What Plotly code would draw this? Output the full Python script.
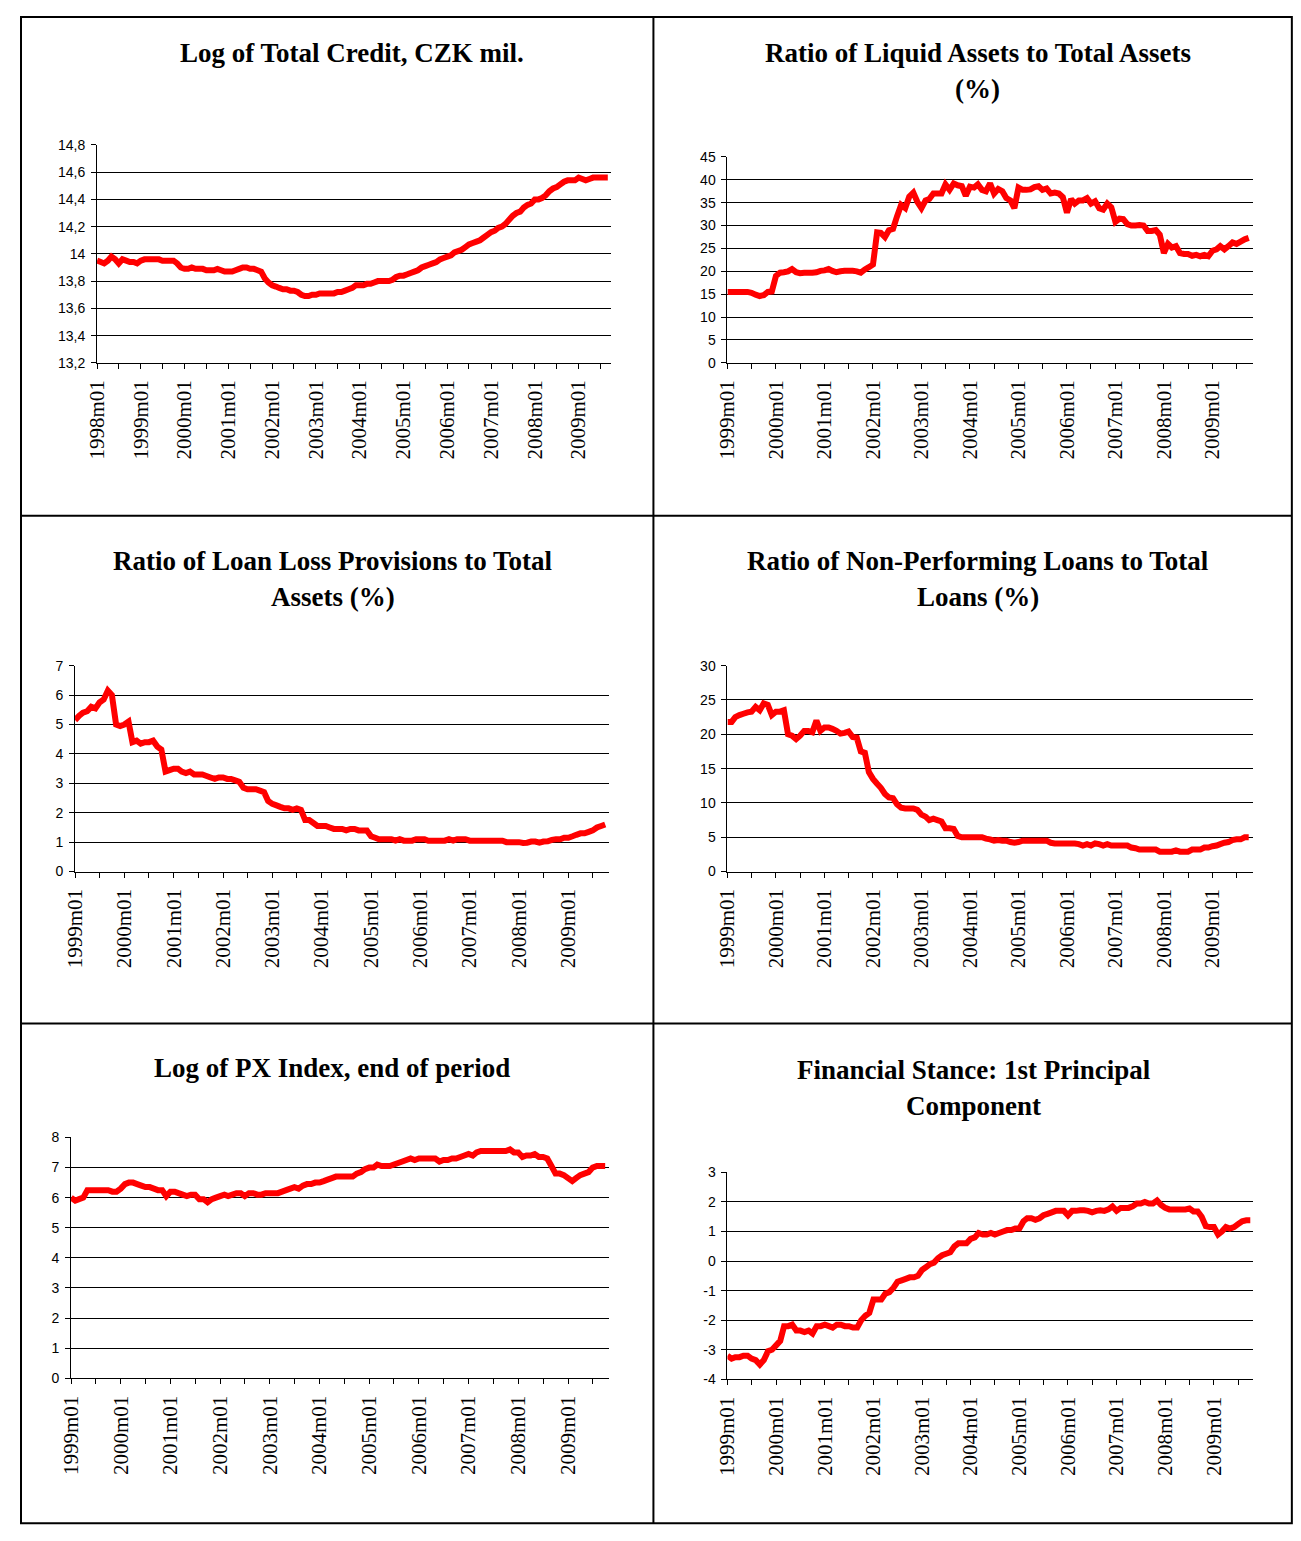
import pandas as pd
import plotly.graph_objects as go

# monthly values

credit_start = "1998-01-01"
credit = [
    13.95, 13.94, 13.93, 13.95, 13.98, 13.96, 13.93, 13.96, 13.95, 13.94, 13.94, 13.93,
    13.95, 13.96, 13.96, 13.96, 13.96, 13.96, 13.95, 13.95, 13.95, 13.95, 13.93, 13.90,
    13.89, 13.89, 13.90, 13.89, 13.89, 13.89, 13.88, 13.88, 13.88, 13.89, 13.88, 13.87,
    13.87, 13.87, 13.88, 13.89, 13.90, 13.90, 13.89, 13.89, 13.88, 13.87, 13.82, 13.79,
    13.77, 13.76, 13.75, 13.74, 13.74, 13.73, 13.73, 13.72, 13.70, 13.69, 13.69, 13.70,
    13.70, 13.71, 13.71, 13.71, 13.71, 13.71, 13.72, 13.72, 13.73, 13.74, 13.75, 13.77,
    13.77, 13.77, 13.78, 13.78, 13.79, 13.80, 13.80, 13.80, 13.80, 13.81, 13.83, 13.84,
    13.84, 13.85, 13.86, 13.87, 13.88, 13.90, 13.91, 13.92, 13.93, 13.94, 13.96, 13.97,
    13.98, 13.99, 14.01, 14.02, 14.03, 14.05, 14.07, 14.08, 14.09, 14.10, 14.12, 14.14,
    14.16, 14.17, 14.19, 14.20, 14.22, 14.25, 14.28, 14.30, 14.31, 14.34, 14.36, 14.37,
    14.40, 14.40, 14.41, 14.43, 14.46, 14.48, 14.49, 14.51, 14.53, 14.54, 14.54, 14.54,
    14.56, 14.55, 14.54, 14.55, 14.56, 14.56, 14.56, 14.56, 14.56,
]

liquid_start = "1999-01-01"
liquid = [
    15.5, 15.5, 15.5, 15.5, 15.5, 15.5, 15.3, 14.9, 14.6, 14.8, 15.5, 15.6,
    19.0, 19.7, 19.8, 20.0, 20.5, 19.8, 19.6, 19.7, 19.7, 19.7, 19.8, 20.1,
    20.2, 20.5, 20.1, 19.8, 20.0, 20.1, 20.1, 20.1, 20.0, 19.7, 20.4, 20.9,
    21.5, 28.5, 28.4, 27.5, 29.0, 29.3, 32.0, 34.5, 33.8, 36.3, 37.2, 35.2,
    33.8, 35.5, 35.8, 37.0, 37.0, 37.0, 39.0, 37.8, 39.2, 38.8, 38.6, 36.5,
    38.5, 38.3, 39.0, 37.8, 37.5, 39.2, 37.0, 38.0, 37.5, 36.0, 35.5, 33.8,
    38.3, 37.8, 37.8, 37.9, 38.4, 38.6, 37.8, 38.1, 37.0, 37.2, 37.0, 36.2,
    32.8, 35.8, 34.8, 35.5, 35.5, 36.0, 34.8, 35.3, 33.8, 33.5, 34.8, 34.0,
    30.8, 31.5, 31.4, 30.3, 30.0, 30.0, 30.1, 30.0, 28.8, 28.8, 29.0, 28.0,
    24.0, 26.0, 25.2, 25.5, 24.0, 23.8, 23.8, 23.4, 23.6, 23.3, 23.6, 23.3,
    24.5, 24.8, 25.5, 24.8, 25.5, 26.3, 26.0, 26.5, 27.0, 27.3,
]

provisions_start = "1999-01-01"
provisions = [
    5.15, 5.30, 5.40, 5.45, 5.60, 5.55, 5.75, 5.85, 6.15, 6.00, 5.00, 4.95,
    5.00, 5.10, 4.40, 4.45, 4.35, 4.40, 4.40, 4.45, 4.25, 4.15, 3.40, 3.45,
    3.50, 3.50, 3.40, 3.35, 3.40, 3.30, 3.30, 3.30, 3.25, 3.20, 3.15, 3.20,
    3.20, 3.15, 3.15, 3.10, 3.05, 2.85, 2.80, 2.80, 2.80, 2.75, 2.70, 2.40,
    2.30, 2.25, 2.20, 2.15, 2.15, 2.10, 2.15, 2.10, 1.75, 1.75, 1.65, 1.55,
    1.55, 1.55, 1.50, 1.45, 1.45, 1.45, 1.40, 1.45, 1.45, 1.40, 1.40, 1.40,
    1.20, 1.15, 1.10, 1.10, 1.10, 1.10, 1.05, 1.10, 1.05, 1.05, 1.05, 1.10,
    1.10, 1.10, 1.05, 1.05, 1.05, 1.05, 1.05, 1.10, 1.05, 1.10, 1.10, 1.10,
    1.05, 1.05, 1.05, 1.05, 1.05, 1.05, 1.05, 1.05, 1.05, 1.00, 1.00, 1.00,
    1.00, 0.97, 0.98, 1.02, 1.02, 0.98, 1.02, 1.03, 1.08, 1.10, 1.10, 1.15,
    1.15, 1.20, 1.25, 1.30, 1.30, 1.35, 1.40, 1.50, 1.55, 1.60,
]

npl_start = "1999-01-01"
npl = [
    21.8, 21.8, 22.5, 22.8, 23.0, 23.2, 23.3, 24.0, 23.5, 24.5, 24.3, 22.8,
    23.3, 23.3, 23.5, 20.0, 19.8, 19.3, 19.8, 20.5, 20.5, 20.3, 22.0, 20.5,
    21.0, 21.0, 20.8, 20.5, 20.1, 20.2, 20.4, 19.6, 19.5, 17.5, 17.3, 14.5,
    13.5, 12.8, 12.2, 11.3, 10.8, 10.7, 9.8, 9.3, 9.2, 9.2, 9.2, 9.0,
    8.3, 8.0, 7.5, 7.7, 7.5, 7.3, 6.3, 6.3, 6.2, 5.2, 5.0, 5.0,
    5.0, 5.0, 5.0, 5.0, 4.8, 4.7, 4.5, 4.6, 4.5, 4.5, 4.3, 4.2,
    4.3, 4.5, 4.5, 4.5, 4.5, 4.5, 4.5, 4.5, 4.2, 4.1, 4.1, 4.1,
    4.1, 4.1, 4.1, 4.0, 3.8, 4.0, 3.8, 4.1, 4.0, 3.8, 4.0, 3.8,
    3.8, 3.8, 3.8, 3.8, 3.5, 3.4, 3.2, 3.2, 3.2, 3.2, 3.2, 2.9,
    2.9, 2.9, 2.9, 3.1, 2.9, 2.9, 2.9, 3.2, 3.2, 3.2, 3.5, 3.5,
    3.7, 3.8, 4.0, 4.2, 4.3, 4.6, 4.7, 4.7, 5.0, 5.0,
]

px_start = "1999-01-01"
px_index = [
    6.00, 5.90, 5.95, 6.00, 6.25, 6.25, 6.25, 6.25, 6.25, 6.25, 6.20, 6.20,
    6.30, 6.45, 6.50, 6.50, 6.45, 6.40, 6.35, 6.35, 6.30, 6.25, 6.25, 6.05,
    6.20, 6.20, 6.15, 6.10, 6.05, 6.10, 6.10, 5.95, 5.95, 5.85, 5.95, 6.00,
    6.05, 6.10, 6.05, 6.10, 6.15, 6.15, 6.05, 6.15, 6.15, 6.10, 6.10, 6.15,
    6.15, 6.15, 6.15, 6.20, 6.25, 6.30, 6.35, 6.30, 6.40, 6.45, 6.45, 6.50,
    6.50, 6.55, 6.60, 6.65, 6.70, 6.70, 6.70, 6.70, 6.70, 6.80, 6.85, 6.95,
    7.00, 7.00, 7.10, 7.05, 7.05, 7.05, 7.10, 7.15, 7.20, 7.25, 7.30, 7.25,
    7.30, 7.30, 7.30, 7.30, 7.30, 7.20, 7.25, 7.25, 7.30, 7.30, 7.35, 7.40,
    7.45, 7.40, 7.50, 7.55, 7.55, 7.55, 7.55, 7.55, 7.55, 7.55, 7.60, 7.50,
    7.50, 7.35, 7.40, 7.40, 7.45, 7.35, 7.35, 7.30, 7.05, 6.80, 6.80, 6.75,
    6.65, 6.55, 6.65, 6.75, 6.80, 6.85, 7.00, 7.05, 7.05, 7.05,
]

stance_start = "1999-01-01"
stance = [
    -3.20, -3.30, -3.25, -3.25, -3.20, -3.20, -3.30, -3.35, -3.50, -3.35, -3.05, -3.00,
    -2.85, -2.70, -2.20, -2.20, -2.15, -2.35, -2.35, -2.40, -2.35, -2.45, -2.20, -2.20,
    -2.15, -2.20, -2.25, -2.15, -2.15, -2.20, -2.20, -2.25, -2.25, -2.00, -1.85, -1.75,
    -1.30, -1.30, -1.30, -1.10, -1.05, -0.90, -0.70, -0.65, -0.60, -0.55, -0.55, -0.50,
    -0.30, -0.20, -0.10, -0.05, 0.10, 0.20, 0.25, 0.30, 0.50, 0.60, 0.60, 0.60,
    0.75, 0.80, 0.95, 0.90, 0.90, 0.95, 0.90, 0.95, 1.00, 1.05, 1.05, 1.10,
    1.10, 1.35, 1.45, 1.45, 1.40, 1.45, 1.55, 1.60, 1.65, 1.70, 1.70, 1.70,
    1.55, 1.70, 1.70, 1.72, 1.72, 1.70, 1.65, 1.70, 1.72, 1.70, 1.75, 1.85,
    1.70, 1.80, 1.80, 1.80, 1.85, 1.95, 1.95, 2.00, 1.95, 1.95, 2.05, 1.90,
    1.80, 1.75, 1.75, 1.75, 1.75, 1.75, 1.78, 1.68, 1.68, 1.50, 1.18, 1.15,
    1.15, 0.90, 1.00, 1.15, 1.10, 1.15, 1.25, 1.35, 1.38, 1.38,
]

titles = [
    ["Log of Total Credit, CZK mil."],
    ["Ratio of Liquid Assets to Total Assets", "(%)"],
    ["Ratio of Loan Loss Provisions to Total", "Assets (%)"],
    ["Ratio of Non-Performing Loans to Total", "Loans (%)"],
    ["Log of PX Index, end of period"],
    ["Financial Stance: 1st Principal", "Component"],
]
series = [
    (credit_start, credit),
    (liquid_start, liquid),
    (provisions_start, provisions),
    (npl_start, npl),
    (px_start, px_index),
    (stance_start, stance),
]
y_ticks = [
    [13.2, 13.4, 13.6, 13.8, 14.0, 14.2, 14.4, 14.6, 14.8],
    [0, 5, 10, 15, 20, 25, 30, 35, 40, 45],
    [0, 1, 2, 3, 4, 5, 6, 7],
    [0, 5, 10, 15, 20, 25, 30],
    [0, 1, 2, 3, 4, 5, 6, 7, 8],
    [-4, -3, -2, -1, 0, 1, 2, 3],
]
x_ends = ["2009-10-01", "2009-11-01", "2009-11-01", "2009-11-01", "2009-11-01", "2009-10-20"]

# figure fits the page inside the 8px body margin
W, H = 1285, 1525
# the photographed page shows the figure shifted and shrunk a little
SX, SY, K = 20, 16, 0.99


def fx(x):
    return (x - SX) / K / W


def fy(y):
    return 1 - (y - SY) / K / H


# plot areas in reference pixels: left, right, top, bottom
boxes = [
    (97, 611, 145, 363),
    (727, 1252, 157, 363),
    (75, 609, 666, 872),
    (727, 1252, 666, 872),
    (71, 609, 1138, 1379),
    (727, 1252, 1173, 1380),
]
# title line positions: centre x, first line y
title_pos = [(352, 53), (977, 53), (333, 561), (977, 561), (332, 1069), (973, 1071)]

fig = go.Figure()
annotations = []

for i in range(6):
    n = i + 1
    start, vals = series[i]
    dates = pd.date_range(start, periods=len(vals), freq="MS")
    xa = "x" if n == 1 else f"x{n}"
    ya = "y" if n == 1 else f"y{n}"
    fig.add_trace(go.Scatter(
        x=dates, y=vals, mode="lines",
        line=dict(color="#ff0000", width=6, simplify=False),
        xaxis=xa, yaxis=ya, showlegend=False, hoverinfo="skip",
    ))
    l, r, t, b = boxes[i]
    ticks = y_ticks[i]
    ticktext = [f"{v:g}".replace(".", ",") for v in ticks]
    fig.layout[f"xaxis{n}"] = dict(
        domain=[fx(l), fx(r)], anchor=ya,
        type="date", range=[start, x_ends[i]],
        tickformat="%Ym%m", dtick="M12", tick0=start,
        tickangle=-90, ticks="outside", ticklen=5, tickwidth=1, tickcolor="black",
        minor=dict(dtick="M6", ticks="outside", ticklen=5, tickwidth=1, tickcolor="black", showgrid=False),
        showline=True, linecolor="black", linewidth=1,
        showgrid=False, zeroline=False,
        ticklabelstandoff=3,
        tickfont=dict(family="Liberation Serif", size=21, color="black"),
    )
    fig.layout[f"yaxis{n}"] = dict(
        domain=[fy(b), fy(t)], anchor=xa,
        range=[ticks[0], ticks[-1]],
        tickvals=ticks, ticktext=ticktext,
        ticks="outside", ticklen=5, tickwidth=1, tickcolor="black",
        showline=True, linecolor="black", linewidth=1,
        showgrid=True, gridcolor="black", gridwidth=1, zeroline=False,
        ticklabelstandoff=3,
        tickfont=dict(family="Liberation Sans", size=14, color="black"),
    )
    cx, cy = title_pos[i]
    for k, line in enumerate(titles[i]):
        annotations.append(dict(
            text=f"<b>{line}</b>", x=fx(cx), y=fy(cy + 36 * k),
            xref="paper", yref="paper", xanchor="center", yanchor="middle",
            showarrow=False,
            font=dict(family="Liberation Serif", size=27, color="black"),
        ))

# table borders around the six panels (kept inside the figure)
left, right, top, bottom = 21, 1291, 17, 1524
border = dict(color="black", width=2)
shapes = [
    dict(type="rect", x0=fx(left), x1=fx(right), y0=fy(top), y1=fy(bottom),
         xref="paper", yref="paper", line=border),
    dict(type="line", x0=fx(653), x1=fx(653), y0=fy(top), y1=fy(bottom),
         xref="paper", yref="paper", line=border),
    dict(type="line", x0=fx(left), x1=fx(right), y0=fy(516), y1=fy(516),
         xref="paper", yref="paper", line=border),
    dict(type="line", x0=fx(left), x1=fx(right), y0=fy(1024), y1=fy(1024),
         xref="paper", yref="paper", line=border),
]

fig.update_layout(
    width=W, height=H,
    margin=dict(l=0, r=0, t=0, b=0),
    paper_bgcolor="white", plot_bgcolor="white",
    annotations=annotations, shapes=shapes,
)

fig.write_html("out.html")
